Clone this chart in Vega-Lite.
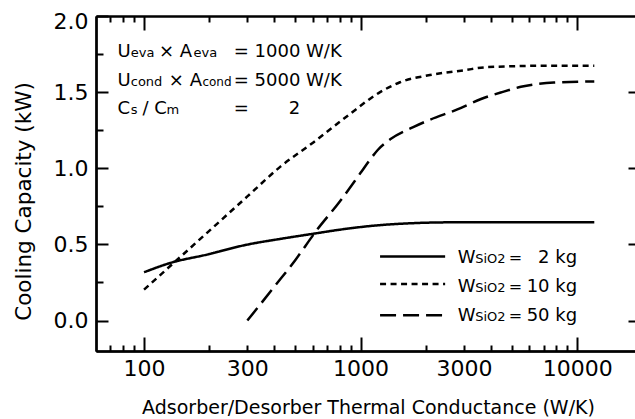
{
  "$schema": "https://vega.github.io/schema/vega-lite/v6.json",
  "width": 539,
  "height": 335,
  "autosize": "none",
  "padding": {"left": 96, "top": 16, "right": 0, "bottom": 68},
  "background": "white",
  "config": {
    "view": {"stroke": null},
    "font": "DejaVu Sans",
    "axis": {
      "grid": false,
      "domainColor": "black",
      "domainWidth": 2,
      "tickColor": "black",
      "tickWidth": 2,
      "labelColor": "black",
      "titleColor": "black",
      "labelFont": "DejaVu Sans",
      "titleFont": "DejaVu Sans",
      "labelFontSize": 22,
      "titleFontWeight": "normal",
      "labelFlush": false,
      "labelOverlap": false
    },
    "text": {"font": "DejaVu Sans", "color": "black", "align": "left", "baseline": "alphabetic"}
  },
  "data": {"values": [{}]},
  "resolve": {"axis": {"x": "independent", "y": "independent"}},
  "layer": [
    {
      "data": {
        "values": [
          {"silica": "2 kg", "conductance": 100, "capacity": 0.317},
          {"silica": "2 kg", "conductance": 132, "capacity": 0.378},
          {"silica": "2 kg", "conductance": 195, "capacity": 0.433},
          {"silica": "2 kg", "conductance": 298, "capacity": 0.498},
          {"silica": "2 kg", "conductance": 425, "capacity": 0.536},
          {"silica": "2 kg", "conductance": 605, "capacity": 0.570},
          {"silica": "2 kg", "conductance": 804, "capacity": 0.597},
          {"silica": "2 kg", "conductance": 1320, "capacity": 0.630},
          {"silica": "2 kg", "conductance": 2670, "capacity": 0.645},
          {"silica": "2 kg", "conductance": 5000, "capacity": 0.645},
          {"silica": "2 kg", "conductance": 12000, "capacity": 0.645},
          {"silica": "10 kg", "conductance": 100, "capacity": 0.203},
          {"silica": "10 kg", "conductance": 200, "capacity": 0.589},
          {"silica": "10 kg", "conductance": 300, "capacity": 0.815},
          {"silica": "10 kg", "conductance": 425, "capacity": 1.009},
          {"silica": "10 kg", "conductance": 605, "capacity": 1.170},
          {"silica": "10 kg", "conductance": 863, "capacity": 1.340},
          {"silica": "10 kg", "conductance": 1230, "capacity": 1.500},
          {"silica": "10 kg", "conductance": 1520, "capacity": 1.565},
          {"silica": "10 kg", "conductance": 2090, "capacity": 1.612},
          {"silica": "10 kg", "conductance": 2990, "capacity": 1.643},
          {"silica": "10 kg", "conductance": 3830, "capacity": 1.664},
          {"silica": "10 kg", "conductance": 7780, "capacity": 1.674},
          {"silica": "10 kg", "conductance": 12000, "capacity": 1.674},
          {"silica": "50 kg", "conductance": 300, "capacity": 0.0},
          {"silica": "50 kg", "conductance": 400, "capacity": 0.223},
          {"silica": "50 kg", "conductance": 500, "capacity": 0.398},
          {"silica": "50 kg", "conductance": 630, "capacity": 0.597},
          {"silica": "50 kg", "conductance": 800, "capacity": 0.78},
          {"silica": "50 kg", "conductance": 1000, "capacity": 0.97},
          {"silica": "50 kg", "conductance": 1110, "capacity": 1.06},
          {"silica": "50 kg", "conductance": 1200, "capacity": 1.12},
          {"silica": "50 kg", "conductance": 1370, "capacity": 1.19},
          {"silica": "50 kg", "conductance": 1750, "capacity": 1.27},
          {"silica": "50 kg", "conductance": 2100, "capacity": 1.32},
          {"silica": "50 kg", "conductance": 2780, "capacity": 1.385},
          {"silica": "50 kg", "conductance": 3600, "capacity": 1.455},
          {"silica": "50 kg", "conductance": 4500, "capacity": 1.50},
          {"silica": "50 kg", "conductance": 5500, "capacity": 1.535},
          {"silica": "50 kg", "conductance": 7800, "capacity": 1.563},
          {"silica": "50 kg", "conductance": 12000, "capacity": 1.57}
        ]
      },
      "mark": {"type": "line", "color": "black", "strokeWidth": 2.5, "interpolate": "monotone"},
      "encoding": {
        "x": {
          "field": "conductance", "type": "quantitative",
          "scale": {"type": "log", "domain": [60, 18500], "nice": false},
          "axis": {
            "orient": "bottom", "values": [100, 300, 1000, 3000, 10000], "format": "d",
            "ticks": false, "labelPadding": 7,
            "title": "Adsorber/Desorber Thermal Conductance (W/K)",
            "titleFontSize": 19, "titleBaseline": "alphabetic", "titleX": 272, "titleY": 62
          }
        },
        "y": {
          "field": "capacity", "type": "quantitative",
          "scale": {"domain": [-0.2, 2.0], "nice": false, "zero": false},
          "axis": {
            "orient": "left", "values": [0, 0.5, 1, 1.5, 2], "format": ".1f",
            "ticks": false, "labelPadding": 8,
            "labelOffset": {"condition": {"test": "datum.value == 2", "value": 5}, "value": 0},
            "title": "Cooling Capacity (kW)",
            "titleFontSize": 21.5, "titleAngle": 270, "titleAlign": "center",
            "titleBaseline": "alphabetic", "titleX": -66, "titleY": 185
          }
        },
        "strokeDash": {
          "field": "silica", "type": "nominal",
          "scale": {"domain": ["2 kg", "10 kg", "50 kg"], "range": [[1, 0], [6, 4.5], [16, 7]]},
          "legend": null
        }
      }
    },
    {
      "mark": {"type": "rule", "color": "black", "strokeWidth": 2.5},
      "encoding": {
        "x": {"datum": 1230, "type": "quantitative",
              "axis": {"orient": "bottom", "values": [100, 1000, 10000], "tickSize": -14, "labels": false, "title": null}},
        "x2": {"datum": 2457},
        "y": {"datum": 0.42, "type": "quantitative",
              "axis": {"orient": "left", "values": [0, 0.5, 1, 1.5, 2], "tickSize": -12, "labels": false, "title": null}}
      }
    },
    {
      "mark": {"type": "rule", "color": "black", "strokeWidth": 2.5, "strokeDash": [6, 4.5]},
      "encoding": {
        "x": {"datum": 1230, "type": "quantitative",
              "axis": {"orient": "bottom", "values": [70, 80, 90, 200, 300, 400, 500, 600, 700, 800, 900, 2000, 3000, 4000, 5000, 6000, 7000, 8000, 9000], "tickSize": -6, "labels": false, "title": null}},
        "x2": {"datum": 2457},
        "y": {"datum": 0.24, "type": "quantitative",
              "axis": {"orient": "left", "values": [0.25, 0.75, 1.25, 1.75], "tickSize": -7, "labels": false, "title": null}}
      }
    },
    {
      "mark": {"type": "rule", "color": "black", "strokeWidth": 2.5, "strokeDash": [16, 7]},
      "encoding": {
        "x": {"datum": 1230, "type": "quantitative",
              "axis": {"orient": "top", "values": [100, 1000, 10000], "tickSize": -14, "labels": false, "title": null}},
        "x2": {"datum": 2457},
        "y": {"datum": 0.035, "type": "quantitative",
              "axis": {"orient": "right", "values": [0, 0.5, 1, 1.5], "tickSize": -7, "labels": false, "domain": false, "title": null}}
      }
    },
    {
      "mark": {"type": "text", "text": ["W", "W", "W"], "fontSize": 18, "lineHeight": 29},
      "encoding": {
        "x": {"datum": 2806, "type": "quantitative",
              "axis": {"orient": "top", "values": [70, 80, 90, 200, 300, 400, 500, 600, 700, 800, 900, 2000, 3000, 4000, 5000, 6000, 7000, 8000, 9000], "tickSize": -6, "labels": false, "title": null}},
        "y": {"datum": 0.375, "type": "quantitative", "axis": null}
      }
    },
    {
      "mark": {"type": "text", "text": ["SiO2", "SiO2", "SiO2"], "fontSize": 13, "lineHeight": 29},
      "encoding": {
        "x": {"datum": 3381, "type": "quantitative", "axis": null},
        "y": {"datum": 0.375, "type": "quantitative", "axis": null}
      }
    },
    {
      "mark": {"type": "text", "text": ["=", "=", "="], "fontSize": 16, "lineHeight": 29},
      "encoding": {
        "x": {"datum": 4828, "type": "quantitative", "axis": null},
        "y": {"datum": 0.375, "type": "quantitative", "axis": null}
      }
    },
    {
      "mark": {"type": "text", "text": ["2 kg", "10 kg", "50 kg"], "fontSize": 18, "lineHeight": 29, "align": "right"},
      "encoding": {
        "x": {"datum": 10000, "type": "quantitative", "axis": null},
        "y": {"datum": 0.375, "type": "quantitative", "axis": null}
      }
    },
    {
      "mark": {"type": "text", "text": ["U", "U", "C"], "fontSize": 18, "lineHeight": 28.5},
      "encoding": {
        "x": {"datum": 75.4, "type": "quantitative", "axis": null},
        "y": {"datum": 1.73, "type": "quantitative", "axis": null}
      }
    },
    {
      "mark": {"type": "text", "text": ["eva", "cond", "s"], "fontSize": 13, "lineHeight": 28.5},
      "encoding": {
        "x": {"datum": 86.8, "type": "quantitative", "axis": null},
        "y": {"datum": 1.73, "type": "quantitative", "axis": null}
      }
    },
    {
      "mark": {"type": "text", "text": "× A", "fontSize": 18},
      "encoding": {
        "x": {"datum": 117.3, "type": "quantitative", "axis": null},
        "y": {"datum": 1.73, "type": "quantitative", "axis": null}
      }
    },
    {
      "mark": {"type": "text", "text": "eva", "fontSize": 13},
      "encoding": {
        "x": {"datum": 169.2, "type": "quantitative", "axis": null},
        "y": {"datum": 1.73, "type": "quantitative", "axis": null}
      }
    },
    {
      "mark": {"type": "text", "text": "× A", "fontSize": 18},
      "encoding": {
        "x": {"datum": 130.2, "type": "quantitative", "axis": null},
        "y": {"datum": 1.543, "type": "quantitative", "axis": null}
      }
    },
    {
      "mark": {"type": "text", "text": "cond", "fontSize": 12},
      "encoding": {
        "x": {"datum": 186.0, "type": "quantitative", "axis": null},
        "y": {"datum": 1.543, "type": "quantitative", "axis": null}
      }
    },
    {
      "mark": {"type": "text", "text": "/ C", "fontSize": 18},
      "encoding": {
        "x": {"datum": 98.4, "type": "quantitative", "axis": null},
        "y": {"datum": 1.356, "type": "quantitative", "axis": null}
      }
    },
    {
      "mark": {"type": "text", "text": "m", "fontSize": 13},
      "encoding": {
        "x": {"datum": 127.0, "type": "quantitative", "axis": null},
        "y": {"datum": 1.356, "type": "quantitative", "axis": null}
      }
    },
    {
      "mark": {"type": "text", "text": ["= 1000 W/K", "= 5000 W/K", "="], "fontSize": 18, "lineHeight": 28.5},
      "encoding": {
        "x": {"datum": 259.5, "type": "quantitative", "axis": null},
        "y": {"datum": 1.73, "type": "quantitative", "axis": null}
      }
    },
    {
      "mark": {"type": "text", "text": "2", "fontSize": 18},
      "encoding": {
        "x": {"datum": 466.1, "type": "quantitative", "axis": null},
        "y": {"datum": 1.356, "type": "quantitative", "axis": null}
      }
    }
  ]
}
